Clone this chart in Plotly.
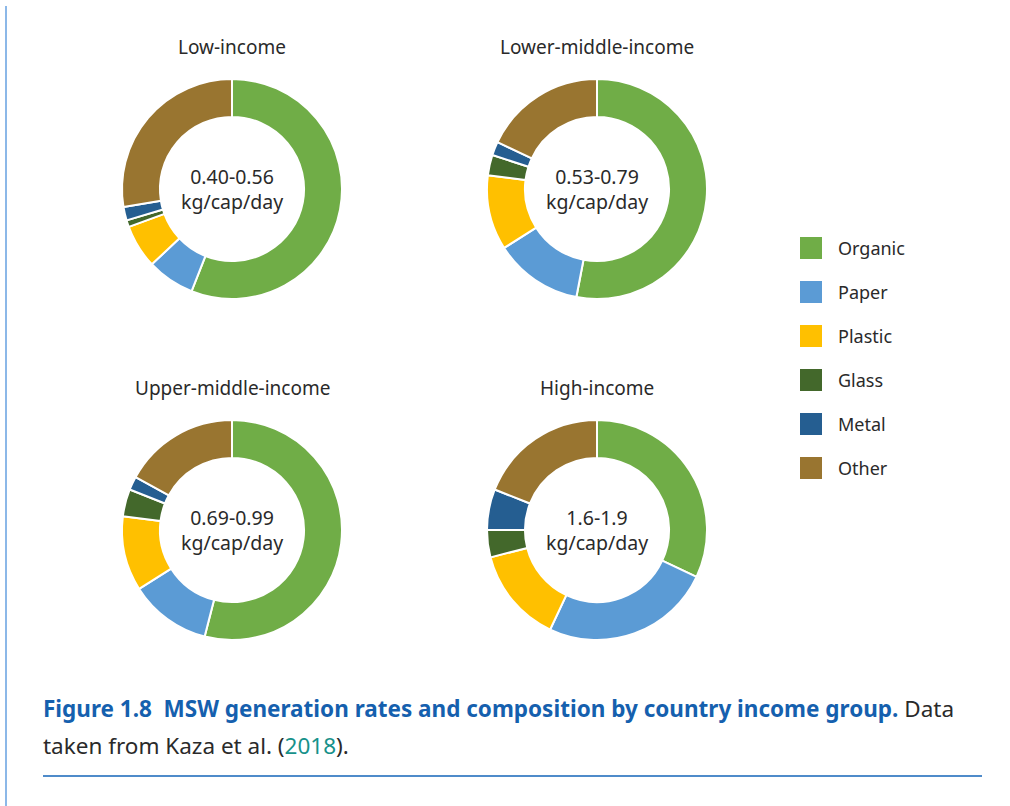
import plotly.graph_objects as go

categories = ["Organic", "Paper", "Plastic", "Glass", "Metal", "Other"]
colors = ["#70AD47", "#5B9BD5", "#FFC000", "#43682B", "#255E91", "#997530"]

groups = ["Low-income", "Lower-middle-income", "Upper-middle-income", "High-income"]
rates = ["0.40-0.56", "0.53-0.79", "0.69-0.99", "1.6-1.9"]
unit = "kg/cap/day"
low_income = [56, 7, 6.4, 1, 2, 27.6]
lower_middle = [53, 13, 11, 3, 2, 18]
upper_middle = [54, 12, 11, 4, 2, 17]
high_income = [32, 25, 14, 4, 6, 19]
values = [low_income, lower_middle, upper_middle, high_income]

W, H = 1010, 806
centers = [(232, 189), (597, 189), (232, 530), (597, 530)]
R = 110
FONT = "Noto Sans"
TXT = "#2a2a2a"

def px(x):
    return x / W

def py(y):
    return 1 - y / H

fig = go.Figure()
annotations = []
shapes = []
for g, rate, vals, (cx, cy) in zip(groups, rates, values, centers):
    fig.add_trace(go.Pie(
        labels=categories, values=vals, sort=False, direction="clockwise",
        rotation=0, hole=0.655, textinfo="none", hoverinfo="label+percent",
        marker=dict(colors=colors, line=dict(color="white", width=2)),
        domain=dict(x=[px(cx - R), px(cx + R)], y=[py(cy + R), py(cy - R)]),
        showlegend=False,
    ))
    annotations.append(dict(x=px(cx), y=py(cy - 142), xref="paper", yref="paper",
                            text=g, showarrow=False, xanchor="center", yanchor="middle",
                            font=dict(family=FONT, size=19, color=TXT)))
    annotations.append(dict(x=px(cx), y=py(cy), xref="paper", yref="paper",
                            text=rate + "<br>" + unit, showarrow=False,
                            xanchor="center", yanchor="middle",
                            font=dict(family=FONT, size=19.5, color=TXT)))

# legend
for i, (cat, col) in enumerate(zip(categories, colors)):
    yc = 248 + i * 44
    shapes.append(dict(type="rect", xref="paper", yref="paper",
                       x0=px(800), x1=px(822), y0=py(yc + 11), y1=py(yc - 11),
                       fillcolor=col, line=dict(width=0)))
    annotations.append(dict(x=px(836), y=py(yc), xref="paper", yref="paper",
                            text=cat, showarrow=False, xanchor="left", yanchor="middle",
                            font=dict(family=FONT, size=18, color=TXT)))

# caption
CAP_FONT = "Noto Sans"
annotations.append(dict(
    x=px(41), y=py(708), xref="paper", yref="paper", xanchor="left", yanchor="middle",
    showarrow=False,
    text="<b><span style='color:#1560AE'>Figure 1.8\u00a0\u00a0MSW generation rates and composition by country income group.</span></b> Data",
    font=dict(family=CAP_FONT, size=22.5, color=TXT)))
annotations.append(dict(
    x=px(41), y=py(745), xref="paper", yref="paper", xanchor="left", yanchor="middle",
    showarrow=False,
    text="taken from Kaza et al. (<span style='color:#17918A'>2018</span>).",
    font=dict(family=CAP_FONT, size=22.5, color=TXT)))

shapes.append(dict(type="line", xref="paper", yref="paper",
                   x0=px(43), x1=px(982), y0=py(776), y1=py(776),
                   line=dict(color="#1565B8", width=1.5)))
shapes.append(dict(type="line", xref="paper", yref="paper",
                   x0=px(6), x1=px(6), y0=py(6), y1=py(806),
                   line=dict(color="#8CB8E8", width=2)))

fig.update_layout(
    width=W, height=H, margin=dict(l=0, r=0, t=0, b=0),
    paper_bgcolor="white", plot_bgcolor="white",
    annotations=annotations, shapes=shapes,
)
fig.write_html("out.html", config={"displayModeBar": False},
               post_script="document.body.style.margin='0px';document.body.style.overflow='hidden';")
